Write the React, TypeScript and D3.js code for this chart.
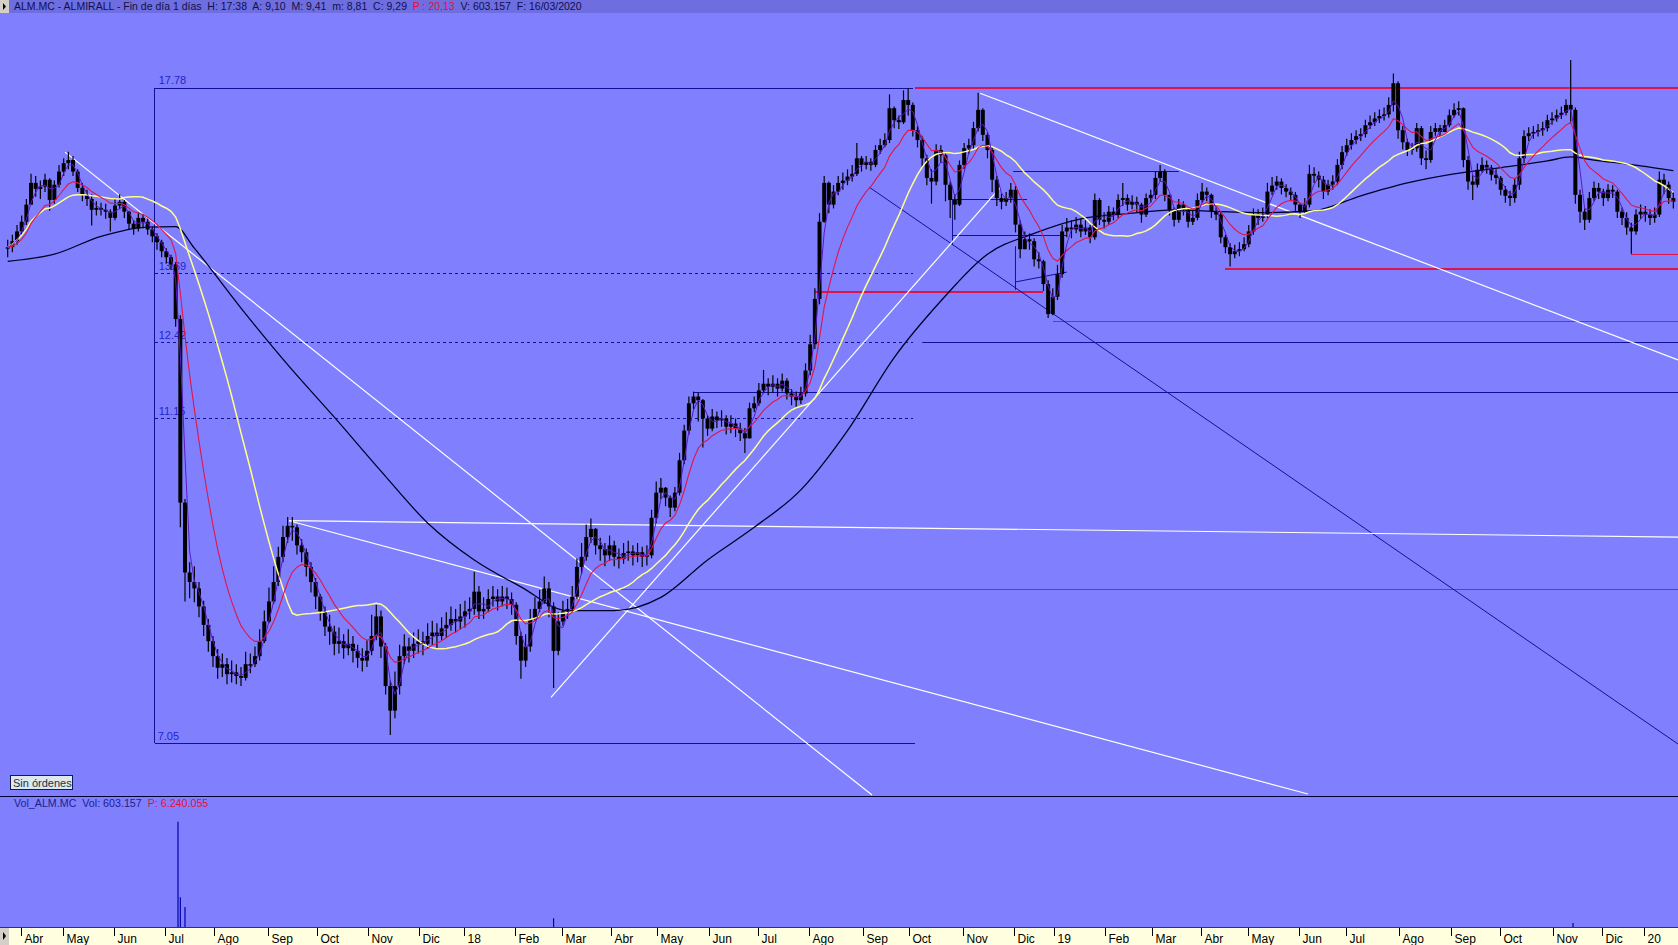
import React from 'react';
import * as d3 from 'd3';

const WIDTH = 1678;
const HEIGHT = 945;
const HEADER_H = 13;
const PRICE_BOTTOM = 796;
const VOL_BOTTOM = 927;

// BME sessions, the first visible one is Thu 23/03/2017
const FIRST_DAY = new Date(2017, 2, 23);
const LAST_DAY = new Date(2020, 1, 29);
const HOLIDAYS = [
  '2017-04-14', '2017-04-17', '2017-05-01', '2017-12-25', '2017-12-26',
  '2018-01-01', '2018-03-30', '2018-04-02', '2018-05-01', '2018-12-24', '2018-12-25', '2018-12-26', '2018-12-31',
  '2019-01-01', '2019-04-19', '2019-04-22', '2019-05-01', '2019-12-24', '2019-12-25', '2019-12-26', '2019-12-31',
  '2020-01-01',
];
const MONTHS = ['Ene', 'Feb', 'Mar', 'Abr', 'May', 'Jun', 'Jul', 'Ago', 'Sep', 'Oct', 'Nov', 'Dic'];

// one bar every two sessions
const SESSIONS_PER_BAR = 2;

const closes = [
  14.20, 14.32, 14.52, 14.72, 15.08, 15.55, 15.42, 15.47, 15.62,
  15.18, 15.51, 15.80, 15.99, 16.06, 15.80, 15.44, 15.29, 15.20, 14.97,
  15.01, 14.97, 14.93, 14.80, 15.06, 15.14, 14.93, 14.68, 14.58, 14.80,
  14.72, 14.56, 14.42, 14.30, 14.12, 14.00, 13.86, 12.83, 9.90, 8.97,
  8.85, 8.77, 8.55, 8.33, 8.14, 7.97, 7.84, 7.88, 7.77,
  7.79, 7.75, 7.73, 7.88, 7.88, 7.97, 8.14, 8.37, 8.61, 8.85,
  9.17, 9.43, 9.58, 9.56, 9.32, 9.23, 9.04, 8.85, 8.67, 8.49,
  8.31, 8.25, 8.11, 8.14, 8.06, 8.11, 8.03, 7.95, 7.92,
  8.03, 8.20, 8.43, 8.08, 7.64, 7.38, 7.64, 7.97, 8.08, 8.03,
  8.11, 8.14, 8.11, 8.20, 8.24, 8.20, 8.29, 8.33, 8.40, 8.37,
  8.43, 8.49, 8.52, 8.73, 8.49, 8.52, 8.64, 8.67, 8.61,
  8.67, 8.64, 8.57, 8.20, 7.92, 8.08, 8.40, 8.52, 8.61, 8.77,
  8.55, 8.03, 8.37, 8.49, 8.52, 8.67, 9.04, 9.17, 9.43, 9.54,
  9.32, 9.27, 9.19, 9.32, 9.17, 9.14, 9.22, 9.24, 9.19,
  9.23, 9.17, 9.19, 9.69, 10.04, 10.11, 9.97, 9.83, 10.04, 10.51,
  10.96, 11.39, 11.50, 11.44, 11.15, 10.99, 11.18, 11.12, 11.15, 11.02,
  11.07, 10.99, 10.92, 10.84, 11.31, 11.39, 11.60, 11.71, 11.66,
  11.71, 11.63, 11.76, 11.55, 11.50, 11.44, 11.55, 11.93, 12.38, 13.20,
  14.72, 15.55, 15.08, 15.36, 15.55, 15.60, 15.69, 15.75, 16.10, 15.95,
  16.02, 15.95, 16.29, 16.40, 16.52, 17.28, 16.99, 16.94, 17.48,
  17.36, 16.75, 16.52, 16.10, 15.66, 15.58, 16.29, 16.17, 15.51, 15.18,
  15.08, 15.95, 16.33, 16.40, 16.80, 17.24, 16.64, 16.29, 15.62, 15.22,
  15.14, 15.22, 15.40, 14.66, 14.16, 14.36, 14.32, 13.96, 13.92,
  13.48, 12.92, 13.24, 13.67, 14.52, 14.60, 14.56, 14.66, 14.52, 14.60,
  14.40, 15.18, 14.76, 14.72, 14.93, 14.87, 15.18, 15.22, 15.08, 15.14,
  15.08, 14.87, 15.22, 15.29, 15.66, 15.80, 15.29, 14.97, 14.76,
  15.08, 14.97, 14.72, 14.80, 15.18, 15.36, 15.29, 14.93, 14.87, 14.40,
  14.20, 14.06, 14.12, 14.16, 14.26, 14.52, 14.87, 14.80, 14.87, 15.36,
  15.49, 15.58, 15.44, 15.36, 15.29, 15.08, 14.93, 15.08, 15.75,
  15.71, 15.62, 15.36, 15.51, 15.58, 15.95, 16.24, 16.40, 16.52, 16.61,
  16.66, 16.87, 16.94, 17.03, 17.09, 17.13, 17.36, 17.90, 16.75, 16.47,
  16.29, 16.33, 16.80, 16.10, 16.06, 16.71, 16.80, 16.71, 16.87,
  17.11, 17.24, 17.28, 16.06, 15.58, 15.51, 15.84, 15.95, 15.89, 15.73,
  15.66, 15.40, 15.27, 15.22, 15.51, 16.10, 16.61, 16.68, 16.71, 16.75,
  16.80, 16.99, 17.03, 17.11, 17.17, 17.36, 17.24, 15.29, 14.93,
  14.76, 15.22, 15.44, 15.36, 15.22, 15.40, 15.36, 14.93, 14.80, 14.60,
  14.52, 14.87, 14.93, 14.87, 14.80, 14.87, 15.62, 15.51, 15.22, 15.14,
];

const highs = [
  14.35, 14.45, 14.65, 14.85, 15.20, 15.75, 15.70, 15.60, 15.75,
  15.65, 15.60, 15.95, 16.10, 16.25, 16.15, 15.85, 15.55, 15.40, 15.30,
  15.15, 15.12, 15.10, 14.98, 15.20, 15.30, 15.18, 14.95, 14.75, 14.92,
  14.88, 14.78, 14.62, 14.48, 14.35, 14.18, 14.05, 13.90, 12.90, 9.95,
  9.10, 9.05, 8.85, 8.62, 8.40, 8.20, 8.05, 8.00, 7.95,
  7.92, 7.88, 7.85, 8.02, 8.00, 8.08, 8.28, 8.50, 8.78, 9.05,
  9.30, 9.58, 9.70, 9.70, 9.60, 9.40, 9.28, 9.10, 8.90, 8.70,
  8.55, 8.45, 8.32, 8.30, 8.22, 8.28, 8.20, 8.10, 8.06,
  8.15, 8.45, 8.57, 8.50, 8.12, 7.70, 7.80, 8.10, 8.22, 8.18,
  8.24, 8.28, 8.25, 8.35, 8.38, 8.35, 8.42, 8.48, 8.55, 8.52,
  8.58, 8.62, 8.66, 8.98, 8.80, 8.66, 8.76, 8.80, 8.76,
  8.80, 8.78, 8.72, 8.60, 8.25, 8.22, 8.52, 8.66, 8.75, 8.92,
  8.85, 8.60, 8.48, 8.62, 8.64, 8.80, 9.15, 9.35, 9.60, 9.68,
  9.55, 9.42, 9.35, 9.45, 9.38, 9.28, 9.35, 9.38, 9.32,
  9.35, 9.30, 9.32, 9.80, 10.20, 10.25, 10.12, 10.00, 10.12, 10.62,
  11.05, 11.50, 11.58, 11.56, 11.46, 11.20, 11.30, 11.26, 11.28, 11.20,
  11.20, 11.15, 11.08, 11.00, 11.40, 11.50, 11.72, 11.94, 11.80,
  11.85, 11.80, 11.88, 11.80, 11.62, 11.58, 11.66, 12.05, 12.55, 13.40,
  14.90, 15.70, 15.58, 15.50, 15.70, 15.78, 15.85, 15.95, 16.45, 16.15,
  16.15, 16.10, 16.40, 16.55, 16.68, 17.62, 17.32, 17.10, 17.72,
  17.78, 17.42, 16.85, 16.62, 16.18, 15.85, 16.42, 16.40, 16.25, 15.58,
  15.30, 16.05, 16.45, 16.55, 16.95, 17.66, 17.28, 16.70, 16.35, 15.70,
  15.32, 15.35, 15.55, 15.48, 14.75, 14.52, 14.48, 14.38, 14.10,
  13.95, 13.55, 13.40, 13.85, 14.65, 14.80, 14.75, 14.82, 14.78, 14.75,
  14.65, 15.32, 15.22, 14.92, 15.05, 15.02, 15.30, 15.55, 15.30, 15.28,
  15.25, 15.12, 15.32, 15.40, 15.80, 15.95, 15.85, 15.25, 15.02,
  15.20, 15.15, 15.02, 14.95, 15.32, 15.55, 15.45, 15.32, 15.02, 14.92,
  14.45, 14.28, 14.25, 14.30, 14.40, 14.65, 15.00, 14.98, 15.02, 15.55,
  15.68, 15.70, 15.65, 15.52, 15.45, 15.35, 15.10, 15.22, 15.95,
  15.90, 15.80, 15.70, 15.62, 15.72, 16.08, 16.38, 16.55, 16.68, 16.75,
  16.80, 17.00, 17.10, 17.18, 17.25, 17.30, 17.55, 18.15, 17.95, 16.85,
  16.55, 16.45, 16.92, 16.85, 16.28, 16.85, 16.92, 16.88, 17.00,
  17.25, 17.40, 17.45, 17.30, 16.15, 15.72, 15.98, 16.12, 16.05, 15.95,
  15.85, 15.70, 15.48, 15.38, 15.65, 16.25, 16.75, 16.82, 16.85, 16.90,
  16.95, 17.12, 17.18, 17.25, 17.32, 17.50, 18.50, 17.30, 15.40,
  15.00, 15.35, 15.58, 15.55, 15.42, 15.52, 15.50, 15.40, 15.02, 14.92,
  14.70, 14.98, 15.08, 15.05, 14.98, 15.02, 15.80, 15.75, 15.58, 15.35,
];

const lows = [
  14.00, 14.10, 14.25, 14.45, 14.65, 15.30, 15.25, 15.20, 15.35,
  14.95, 15.10, 15.45, 15.70, 15.85, 15.70, 15.35, 15.15, 15.05, 14.64,
  14.85, 14.85, 14.78, 14.52, 14.75, 14.98, 14.80, 14.55, 14.45, 14.52,
  14.58, 14.45, 14.30, 14.15, 14.00, 13.88, 13.75, 12.69, 9.56, 8.61,
  8.65, 8.60, 8.42, 8.20, 8.02, 7.85, 7.72, 7.74, 7.66,
  7.68, 7.66, 7.64, 7.70, 7.78, 7.85, 7.92, 8.12, 8.35, 8.58,
  8.80, 9.10, 9.35, 9.38, 9.20, 9.10, 8.92, 8.72, 8.52, 8.38,
  8.20, 8.10, 7.98, 8.00, 7.94, 7.98, 7.90, 7.84, 7.80,
  7.85, 7.98, 8.15, 7.95, 7.55, 7.13, 7.30, 7.55, 7.88, 7.90,
  7.95, 8.00, 7.98, 8.05, 8.10, 8.06, 8.15, 8.18, 8.26, 8.24,
  8.28, 8.30, 8.40, 8.45, 8.40, 8.40, 8.48, 8.55, 8.50,
  8.55, 8.52, 8.45, 8.10, 7.72, 7.85, 8.02, 8.38, 8.48, 8.58,
  8.42, 7.62, 7.98, 8.32, 8.40, 8.48, 8.64, 8.95, 9.12, 9.35,
  9.20, 9.12, 9.05, 9.12, 9.05, 9.02, 9.08, 9.12, 9.06,
  9.10, 9.04, 9.06, 9.15, 9.62, 9.95, 9.85, 9.70, 9.78, 10.00,
  10.45, 10.90, 11.30, 11.10, 10.70, 10.88, 10.95, 11.00, 11.02, 10.90,
  10.92, 10.86, 10.80, 10.62, 10.90, 11.25, 11.35, 11.55, 11.52,
  11.56, 11.50, 11.58, 11.45, 11.36, 11.32, 11.38, 11.50, 11.85, 12.30,
  13.10, 14.70, 14.90, 15.00, 15.28, 15.40, 15.50, 15.58, 15.70, 15.80,
  15.85, 15.82, 15.90, 16.20, 16.35, 16.45, 16.80, 16.78, 16.90,
  17.10, 16.60, 16.35, 15.90, 15.50, 15.10, 15.50, 16.00, 15.15, 14.80,
  14.76, 15.05, 15.85, 16.20, 16.30, 16.72, 16.50, 16.10, 15.35, 15.05,
  14.98, 15.05, 15.12, 14.50, 13.98, 14.18, 14.15, 13.82, 13.78,
  13.35, 12.85, 12.90, 13.18, 13.60, 14.40, 14.38, 14.48, 14.40, 14.45,
  14.28, 14.35, 14.65, 14.58, 14.65, 14.75, 14.80, 15.05, 14.95, 14.98,
  14.92, 14.70, 14.82, 15.12, 15.20, 15.58, 15.15, 14.85, 14.62,
  14.70, 14.85, 14.60, 14.65, 14.75, 15.12, 15.15, 14.80, 14.75, 14.28,
  14.08, 13.82, 13.98, 14.02, 14.12, 14.20, 14.45, 14.65, 14.72, 14.80,
  15.28, 15.40, 15.30, 15.24, 15.15, 14.95, 14.80, 14.88, 15.02,
  15.55, 15.45, 15.20, 15.28, 15.40, 15.50, 15.85, 16.15, 16.30, 16.42,
  16.50, 16.58, 16.78, 16.85, 16.92, 16.98, 17.05, 17.20, 16.55, 16.30,
  16.15, 16.18, 16.25, 15.95, 15.85, 16.00, 16.62, 16.58, 16.72,
  16.82, 17.05, 17.10, 15.90, 15.40, 15.18, 15.45, 15.78, 15.75, 15.60,
  15.52, 15.28, 15.12, 15.05, 15.12, 15.40, 16.00, 16.50, 16.55, 16.60,
  16.62, 16.72, 16.88, 16.95, 17.02, 17.10, 16.95, 15.10, 14.70,
  14.55, 14.70, 15.15, 15.20, 15.05, 15.15, 15.22, 14.80, 14.65, 14.45,
  14.07, 14.45, 14.78, 14.72, 14.65, 14.70, 14.82, 15.30, 15.10, 15.00,
];

// long moving average (needs history before the window) at these bars
const maLongBar = [0, 10, 20, 30, 36, 40, 50, 60, 70, 80, 90, 100, 110, 120, 130, 140, 150, 160, 170, 180,
  190, 200, 210, 220, 230, 240, 250, 260, 270, 280, 290, 300, 310, 320, 330, 335, 340, 350, 357];
const maLongVal = [13.92, 14.06, 14.42, 14.61, 14.62, 14.18, 13.03, 12.03, 11.17, 10.35, 9.62, 9.13, 8.79, 8.50,
  8.50, 8.66, 9.13, 9.56, 10.08, 10.96, 12.15, 13.16, 14.06, 14.48, 14.78, 14.89, 14.97, 14.93, 14.91, 14.95,
  15.27, 15.55, 15.75, 15.89, 16.04, 16.13, 16.06, 15.93, 15.82];

// volume: only the sessions that show a visible bar
const volSession = [73, 74, 76, 234, 671];
const volValue = [18.0e6, 5.1e6, 3.4e6, 1.5e6, 0.7e6];

// drawing tools (session index, price)
const END = 720;
const boxFrom = 63;
const boxTo = 388;
const boxHigh = 17.78;
const boxLow = 7.05;
const fibLevels = [13.69, 12.42, 11.15];
const redLevels: [number, number, number][] = [
  [17.78, 389, END], [13.33, 346, 444], [12.78, 448, END], [13.77, 522, END], [14.06, 696, END], [8.76, 254, END],
];
const blueLevels: [number, number, number][] = [
  [11.57, 294, END], [12.42, 392, END], [15.81, 431, 502], [15.20, 405, 437], [14.45, 405, 454],
];
const blueSegments: [number, number, number, number][] = [
  [405, 15.20, 405, 14.24], [432, 14.22, 432, 13.37], [432, 13.52, 454, 13.71], [369.2, 15.46, 716, 7.04],
];
const whiteSegments: [number, number, number, number][] = [
  [24.6, 16.24, 370.5, 6.55], [120.6, 9.65, 716, 9.43], [120.6, 9.65, 557.4, 6.56],
  [232.9, 7.52, 425.3, 15.44], [416.8, 17.65, 716, 12.11],
];

const FONT = '"Liberation Sans", Arial, sans-serif';

function sma(v: number[], n: number) {
  return v.map((_, i) => d3.mean(v.slice(Math.max(0, i - n + 1), i + 1)) as number);
}

function ema(v: number[], n: number) {
  const a = 2 / (n + 1);
  let e = v[0];
  return v.map(c => (e = e + a * (c - e)));
}

export default function App() {
  const fmtDay = d3.timeFormat('%Y-%m-%d');
  const sessions = d3.timeDay
    .range(FIRST_DAY, LAST_DAY)
    .filter(d => d.getDay() % 6 !== 0 && !HOLIDAYS.includes(fmtDay(d)));

  const x = d3.scaleLinear().domain([0, 716]).range([7.7, 1678]);
  const y = d3.scaleLog().domain([boxLow, boxHigh]).range([743, 88]);
  const yVol = d3.scaleLinear().domain([0, 20e6]).range([VOL_BOTTOM, 810]);
  const bx = (i: number) => x(i * SESSIONS_PER_BAR);

  // tick sits on the boundary before the first session of each month
  const monthTicks = sessions
    .map((d, i) => ({ d, i }))
    .filter(({ d, i }) => i > 0 && d.getMonth() !== sessions[i - 1].getMonth() && x(i) < WIDTH - 4)
    .map(({ d, i }) => ({ i, label: d.getMonth() === 0 ? d3.timeFormat('%y')(d) : MONTHS[d.getMonth()] }));

  const bars = closes.map((c, i) => {
    const o = i ? closes[i - 1] : c;
    return { i, o, c, h: Math.max(highs[i], o, c), l: Math.min(lows[i], o, c) };
  });

  const line = d3.line<number>().x((_, i) => bx(i)).y(v => y(v));
  const purple = line(sma(closes, 3)) ?? '';
  const red = line(ema(closes, 10)) ?? '';
  const yellow = line(sma(closes, 25)) ?? '';
  const black = d3.line<number>()
    .x((_, i) => bx(maLongBar[i]))
    .y(v => y(v))
    .curve(d3.curveMonotoneX)(maLongVal) ?? '';

  const BLUE = '#10109a';
  const RED = '#dc1448';

  return (
    <div>
      <style>{'body{margin:0;background:#8080ff}'}</style>
      <svg width={WIDTH} height={HEIGHT} style={{ display: 'block', fontFamily: FONT }}>
        <defs>
          <clipPath id="pricePanel">
            <rect x={0} y={HEADER_H} width={WIDTH} height={PRICE_BOTTOM - HEADER_H} />
          </clipPath>
        </defs>
        <rect width={WIDTH} height={HEIGHT} fill="#8080ff" />

        {/* header */}
        <rect width={WIDTH} height={HEADER_H} fill="#6e6ee0" />
        <rect width={9} height={HEADER_H} fill="#d4d0c8" />
        <path d="M3,3 L6,6.5 L3,10 Z" fill="#000" />
        <text x={14} y={10} fontSize={10.5} fill="#10104a" style={{ whiteSpace: 'pre' }}>
          <tspan>ALM.MC - ALMIRALL - Fin de día 1 días  H: 17:38  A: 9,10  M: 9,41  m: 8,81  C: 9,29  </tspan>
          <tspan fill="#e0103c">P : 20,13</tspan>
          <tspan>  V: 603.157  F: 16/03/2020</tspan>
        </text>

        <g clipPath="url(#pricePanel)">
          {/* high/low box with retracements */}
          <g stroke={BLUE} strokeWidth={1} shapeRendering="crispEdges">
            <line x1={x(boxFrom)} x2={x(boxFrom)} y1={y(boxHigh)} y2={y(boxLow)} />
            <line x1={x(boxFrom)} x2={x(boxTo)} y1={y(boxHigh)} y2={y(boxHigh)} />
            <line x1={x(boxFrom)} x2={x(boxTo + 1)} y1={y(boxLow)} y2={y(boxLow)} />
            {fibLevels.map(p => (
              <line key={p} x1={x(boxFrom)} x2={x(boxTo)} y1={y(p)} y2={y(p)} strokeDasharray="3,3" />
            ))}
          </g>
          <g fontSize={11} fill="#2424c8">
            <text x={x(boxFrom) + 4} y={y(boxHigh) - 4}>{boxHigh.toFixed(2)}</text>
            {fibLevels.map(p => (
              <text key={p} x={x(boxFrom) + 4} y={y(p) - 3}>{p.toFixed(2)}</text>
            ))}
            <text x={x(boxFrom) + 3} y={y(boxLow) - 3}>{boxLow.toFixed(2)}</text>
          </g>

          <g stroke={RED} strokeWidth={1.2} shapeRendering="crispEdges">
            {redLevels.map(([p, a, b], k) => (
              <line key={k} x1={x(a)} x2={x(b)} y1={y(p)} y2={y(p)} />
            ))}
          </g>
          <g stroke={BLUE} strokeWidth={1}>
            {blueLevels.map(([p, a, b], k) => (
              <line key={k} x1={x(a)} x2={x(b)} y1={Math.round(y(p)) + 0.5} y2={Math.round(y(p)) + 0.5} />
            ))}
            {blueSegments.map(([a, p, b, q], k) => (
              <line key={k} x1={x(a)} x2={x(b)} y1={y(p)} y2={y(q)} />
            ))}
          </g>
          <g stroke="#ffffff" strokeWidth={1.2}>
            {whiteSegments.map(([a, p, b, q], k) => (
              <line key={k} x1={x(a)} x2={x(b)} y1={y(p)} y2={y(q)} />
            ))}
          </g>

          {/* candles */}
          <g fill="#000" stroke="#000">
            {bars.map(b => {
              const cx = bx(b.i);
              const top = y(Math.max(b.o, b.c));
              const bot = y(Math.min(b.o, b.c));
              return (
                <g key={b.i}>
                  <line x1={cx} x2={cx} y1={y(b.h)} y2={y(b.l)} strokeWidth={1.2} />
                  <rect x={cx - 2} width={4} y={top} height={Math.max(1.5, bot - top)} stroke="none" />
                </g>
              );
            })}
          </g>

          {/* moving averages */}
          <path d={black} fill="none" stroke="#00002a" strokeWidth={1.3} />
          <path d={yellow} fill="none" stroke="#ffff8a" strokeWidth={1.5} />
          <path d={red} fill="none" stroke="#e0144a" strokeWidth={1.1} />
          <path d={purple} fill="none" stroke="#5a18c8" strokeWidth={1} />
        </g>

        {/* order box */}
        <rect x={10.5} y={775.5} width={62} height={14} fill="#dde8ee" stroke="#0c1c50" />
        <text x={13} y={787} fontSize={11} fill="#1c3040">Sin órdenes</text>

        {/* volume panel */}
        <line x1={0} x2={WIDTH} y1={PRICE_BOTTOM + 0.5} y2={PRICE_BOTTOM + 0.5} stroke="#000030" />
        <text x={14} y={807} fontSize={10.7} fill="#20208a" style={{ whiteSpace: 'pre' }}>
          <tspan>Vol_ALM.MC  Vol: 603.157  </tspan>
          <tspan fill="#e0103c">P: 6.240.055</tspan>
        </text>
        <g stroke="#0000a8" strokeWidth={1.2}>
          {volSession.map((s, k) => (
            <line key={k} x1={x(s)} x2={x(s)} y1={yVol(0)} y2={yVol(volValue[k])} />
          ))}
        </g>

        {/* time axis */}
        <rect x={0} y={VOL_BOTTOM} width={WIDTH} height={HEIGHT - VOL_BOTTOM} fill="#ffffe0" />
        <line x1={0} x2={WIDTH} y1={VOL_BOTTOM + 0.5} y2={VOL_BOTTOM + 0.5} stroke="#30307a" />
        <rect x={0} y={VOL_BOTTOM + 1} width={9} height={HEIGHT - VOL_BOTTOM - 1} fill="#d4d0c8" />
        <path d={`M3,${VOL_BOTTOM + 5} L6,${VOL_BOTTOM + 9} L3,${VOL_BOTTOM + 13} Z`} fill="#000" />
        {monthTicks.map(t => {
          const tx = Math.round(x(t.i - 1.5)) + 0.5;
          return (
            <g key={t.i}>
              <line x1={tx} x2={tx} y1={VOL_BOTTOM + 1} y2={VOL_BOTTOM + 9} stroke="#000" />
              <text x={tx + 3} y={HEIGHT - 2} fontSize={12} fill="#000">{t.label}</text>
            </g>
          );
        })}
      </svg>
    </div>
  );
}
